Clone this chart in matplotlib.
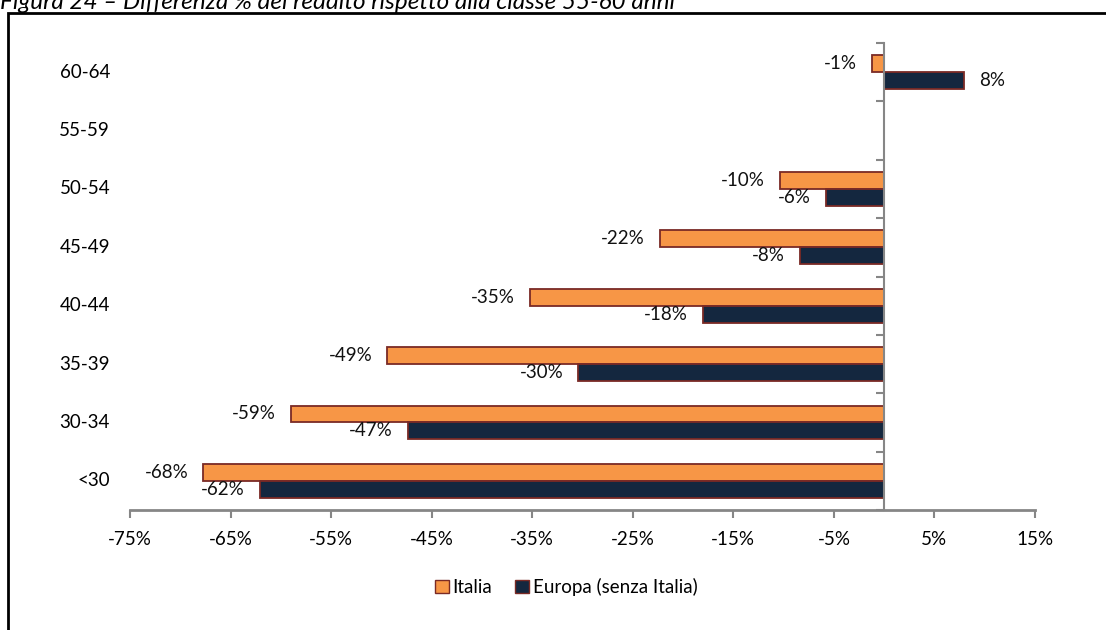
import numpy as np
import matplotlib
matplotlib.use("Agg")
import matplotlib.pyplot as plt
from matplotlib.patches import Rectangle, Patch

plt.rcParams['font.family'] = ['Lato', 'DejaVu Sans']

# classi di eta (dal basso verso l'alto)
classi = ["<30", "30-34", "35-39", "40-44", "45-49", "50-54", "55-59", "60-64"]
italia = [-67.7, -59.0, -49.4, -35.2, -22.3, -10.4, np.nan, -1.2]
europa = [-62.1, -47.4, -30.4, -18.0, -8.4, -5.8, np.nan, 7.9]
xticks = [-75, -65, -55, -45, -35, -25, -15, -5, 5, 15]

col_it = "#F79646"
col_eu = "#14273F"
col_edge = "#7A2A25"
col_axis = "#868686"
fs = 13.5

fig = plt.figure(figsize=(11.06, 6.30), dpi=100)
ax = fig.add_axes([130 / 1106, 1 - 510 / 630, 905 / 1106, 467 / 630])

y = np.arange(len(classi))
h = 0.29
bi = ax.barh(y + h / 2, italia, height=h, color=col_it, edgecolor=col_edge, linewidth=1.3, label="Italia")
be = ax.barh(y - h / 2, europa, height=h, color=col_eu, edgecolor=col_edge, linewidth=1.3, label="Europa (senza Italia)")

for bars, vals in ((bi, italia), (be, europa)):
    for b, v in zip(bars, vals):
        if np.isnan(v):
            continue
        yc = b.get_y() + b.get_height() / 2
        off = -11 if v < 0 else 11
        ax.annotate(f"{v:.0f}%", (v, yc), xytext=(off, 0), textcoords="offset points",
                    ha="right" if v < 0 else "left", va="center", fontsize=fs, color="#111111")

ax.set_xlim(-75, 15)
ax.set_ylim(-0.5, len(classi) - 0.5)
ax.set_xticks(xticks)
ax.set_xticklabels([f"{t}%" for t in xticks], fontsize=fs)
ax.tick_params(axis="x", direction="out", length=6, width=1.5, color=col_axis, pad=9)

for s in ("top", "right"):
    ax.spines[s].set_visible(False)
ax.spines["bottom"].set_color(col_axis)
ax.spines["bottom"].set_linewidth(2)
ax.spines["left"].set_position(("data", 0))
ax.spines["left"].set_color(col_axis)
ax.spines["left"].set_linewidth(1.5)
ax.set_yticks(np.arange(len(classi) + 1) - 0.5)
ax.set_yticklabels([])
ax.tick_params(axis="y", direction="out", length=6, width=1.5, color=col_axis)

for yi, c in zip(y, classi):
    ax.text(-0.022, yi, c, transform=ax.get_yaxis_transform(), ha="right", va="center", fontsize=fs)

ax.legend(handles=[Patch(facecolor=col_it, edgecolor=col_edge, label="Italia"),
                   Patch(facecolor=col_eu, edgecolor=col_edge, label="Europa (senza Italia)")],
          loc="center", bbox_to_anchor=(566 / 1106, 1 - 587 / 630), bbox_transform=fig.transFigure,
          ncol=2, frameon=False, fontsize=fs, handlelength=0.75, handleheight=0.75,
          handletextpad=0.2, columnspacing=1.2)

# cornice e titolo tagliati come nell'originale
fig.patches.append(Rectangle((8 / 1106, -0.2), 1.2, 1.2 - 13 / 630, transform=fig.transFigure,
                             fill=False, edgecolor="black", linewidth=2))
fig.text(0.0, 1 - 9 / 630, "Figura 24 – Differenza % del reddito rispetto alla classe 55-60 anni",
         ha="left", va="baseline", fontsize=17.5, style="italic")

fig.savefig("out.png", dpi=100)
